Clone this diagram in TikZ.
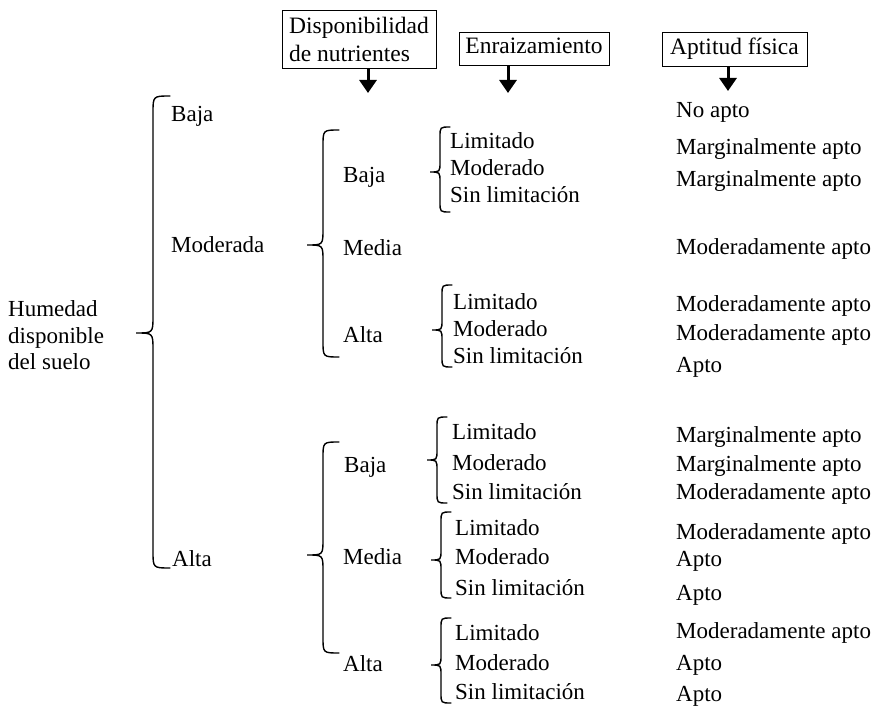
\documentclass[tikz,border=0pt]{standalone}
\usepackage{fontspec}
\setmainfont{Liberation Serif}
\usetikzlibrary{positioning}
\usetikzlibrary{arrows.meta}

% llave: x, arriba, punta, abajo, radio
\newcommand{\llave}[5]{%
	\draw[llave] (#1+#5,#2) .. controls (#1,#2) .. (#1,#2+#5) -- (#1,#3-#5)
	.. controls (#1,#3) .. (#1-#5,#3) .. controls (#1,#3) .. (#1,#3+#5)
	-- (#1,#4-#5) .. controls (#1,#4) .. (#1+#5,#4);}

\begin{document}
\begin{tikzpicture}[x=1pt,y=-1pt,
	txt/.style={anchor=base west,inner sep=0pt,font=\fontsize{23}{27}\selectfont},
	caja/.style={draw,line width=0.8pt,inner sep=0pt,font=\fontsize{23.5}{28}\selectfont},
	linea/.style={text height=16pt,text depth=5pt},
	llave/.style={line width=1.4pt,line cap=round},
	flecha/.style={line width=3pt,-{Triangle[width=17pt,length=13pt]}}]
	
	\useasboundingbox (0,0) rectangle (880,708);
	
	% cabecera
	\node[caja,minimum width=154pt,minimum height=58pt,align=left] (disp) at (359,39) {Disponibilidad\\de nutrientes};
	\node[caja,linea,minimum width=150pt,minimum height=33pt] (enr) at (534,48.5) {Enraizamiento};
	\node[caja,linea,minimum width=145pt,minimum height=34pt] (apt) at (734.5,49) {Aptitud física};
	
	\coordinate (p1) at (368,93);
	\coordinate (p2) at (508,93);
	\coordinate (p3) at (728,91);
	\draw[flecha] (disp.south -| p1) -- (p1);
	\draw[flecha] (enr.south -| p2) -- (p2);
	\draw[flecha] (apt.south -| p3) -- (p3);
	
	% humedad
	\node[txt,anchor=west,align=left,font=\fontsize{23}{26.5}\selectfont] (hum) at (8,335.5) {Humedad\\disponible\\del suelo};
	\llave{153}{96}{333}{568}{17}
	\node[txt] (h1) at (171,122) {Baja};
	\node[txt] (h2) at (171,253) {Moderada};
	\node[txt] (h3) at (172,566) {Alta};
	
	% nutrientes, humedad moderada
	\llave{323}{130}{245}{357}{16}
	\node[txt] (m1) at (343,183) {Baja};
	\node[txt] (m2) at (343,256) {Media};
	\node[txt] (m3) at (343,342) {Alta};
	
	% nutrientes, humedad alta
	\llave{323}{442}{555}{653}{16}
	\node[txt] (a1) at (344,472) {Baja};
	\node[txt] (a2) at (343,564) {Media};
	\node[txt] (a3) at (343,671) {Alta};
	
	% enraizamiento
	\llave{440}{127}{172}{212}{10}
	\node[txt] (m1a) at (450,149) {Limitado};
	\node[txt] (m1b) at (450,176) {Moderado};
	\node[txt] (m1c) at (450,203) {Sin limitación};
	
	\llave{442}{285}{330}{367}{10}
	\node[txt] (m3a) at (453,310) {Limitado};
	\node[txt] (m3b) at (453,337) {Moderado};
	\node[txt] (m3c) at (453,363) {Sin limitación};
	
	\llave{437}{417}{460}{503}{10}
	\node[txt] (a1a) at (452,439) {Limitado};
	\node[txt] (a1b) at (452,470) {Moderado};
	\node[txt] (a1c) at (452,499) {Sin limitación};
	
	\llave{441}{512}{560}{598}{10}
	\node[txt] (a2a) at (455,535) {Limitado};
	\node[txt] (a2b) at (455,564) {Moderado};
	\node[txt] (a2c) at (455,595) {Sin limitación};
	
	\llave{441}{618}{665}{703}{10}
	\node[txt] (a3a) at (455,640) {Limitado};
	\node[txt] (a3b) at (455,670) {Moderado};
	\node[txt] (a3c) at (455,699) {Sin limitación};
	
	% aptitud fisica
	\node[txt] (r1) at (676,118) {No apto};
	\node[txt] (r2) at (676,155) {Marginalmente apto};
	\node[txt] (r3) at (676,187) {Marginalmente apto};
	\node[txt] (r4) at (676,255) {Moderadamente apto};
	\node[txt] (r5) at (676,312) {Moderadamente apto};
	\node[txt] (r6) at (676,340) {Moderadamente apto};
	\node[txt] (r7) at (676,372) {Apto};
	\node[txt] (r8) at (676,442) {Marginalmente apto};
	\node[txt] (r9) at (676,471) {Marginalmente apto};
	\node[txt] (r10) at (676,499) {Moderadamente apto};
	\node[txt] (r11) at (676,539) {Moderadamente apto};
	\node[txt] (r12) at (676,566) {Apto};
	\node[txt] (r13) at (676,600) {Apto};
	\node[txt] (r14) at (676,638) {Moderadamente apto};
	\node[txt] (r15) at (676,670) {Apto};
	\node[txt] (r16) at (676,701) {Apto};
\end{tikzpicture}
\end{document}
